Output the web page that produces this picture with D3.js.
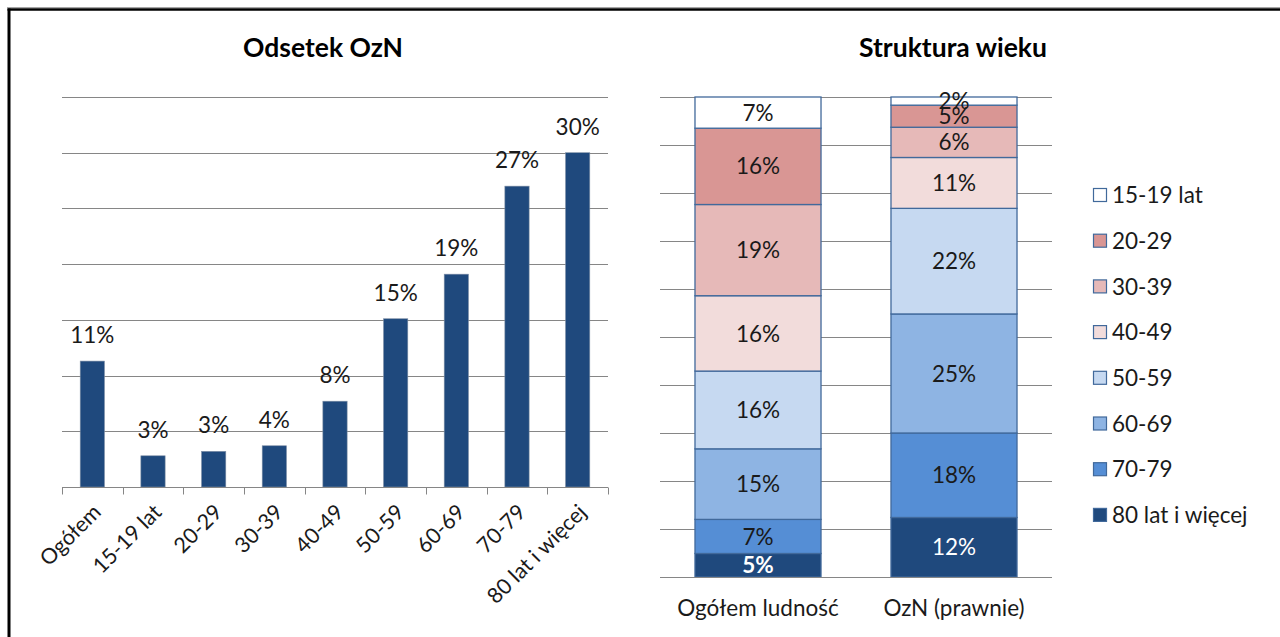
<!DOCTYPE html>
<html>
<head>
<meta charset="utf-8">
<script src="https://cdn.jsdelivr.net/npm/d3@7/dist/d3.min.js"></script>
<style>
  html, body { margin: 0; padding: 0; background: #fff; }
  svg { display: block; font-family: Lato, "Open Sans", sans-serif; }
</style>
</head>
<body>
<svg id="chart" width="1280" height="637"></svg>
<script>
// ---------- DATA ----------
const leftTitle = "Odsetek OzN";
const rightTitle = "Struktura wieku";

const leftCategories = ["Ogółem", "15-19 lat", "20-29", "30-39", "40-49", "50-59", "60-69", "70-79", "80 lat i więcej"];
const leftValues = [11.3, 2.8, 3.2, 3.7, 7.7, 15.1, 19.1, 27.0, 30.0];
const leftLabels = ["11%", "3%", "3%", "4%", "8%", "15%", "19%", "27%", "30%"];
const leftTicks = [0, 5, 10, 15, 20, 25, 30, 35];

const rightCategories = ["Ogółem ludność", "OzN (prawnie)"];
// age groups, listed bottom of stack first
const ageGroups = ["80 lat i więcej", "70-79", "60-69", "50-59", "40-49", "30-39", "20-29", "15-19 lat"];
const ogolemShares = [4.9, 7.1, 14.7, 16.2, 15.7, 19.0, 15.9, 6.5];
const oznShares = [12.4, 17.6, 24.8, 22.0, 10.6, 6.3, 4.6, 1.7];
const rightTicks = [0, 10, 20, 30, 40, 50, 60, 70, 80, 90, 100];
const ageColors = ["#1f497d", "#558ed5", "#8eb4e3", "#c6d9f1", "#f2dcdb", "#e6b9b8", "#d99694", "#ffffff"];
const legendOrder = ["15-19 lat", "20-29", "30-39", "40-49", "50-59", "60-69", "70-79", "80 lat i więcej"];

// ---------- SETUP ----------
const svg = d3.select("#chart");
const gridColor = "#868686";
const textColor = "#1a1a1a";
const fs = 22.5;

// frame
svg.append("line").attr("x1", 7).attr("x2", 1280).attr("y1", 7.5).attr("y2", 7.5)
  .attr("stroke", "#a6a6a6").attr("stroke-width", 1);
svg.append("line").attr("x1", 7.5).attr("x2", 1280).attr("y1", 9.5).attr("y2", 9.5)
  .attr("stroke", "#000").attr("stroke-width", 2.5);
svg.append("line").attr("x1", 9).attr("x2", 9).attr("y1", 8.5).attr("y2", 637)
  .attr("stroke", "#000").attr("stroke-width", 3);

// ---------- LEFT CHART ----------
const xL = d3.scaleBand().domain(leftCategories).range([62, 608]).padding(0);
const yL = d3.scaleLinear().domain([0, 35]).range([487, 97]);

svg.append("text").attr("x", 323).attr("y", 57).attr("text-anchor", "middle")
  .attr("font-size", 26.5).attr("font-weight", "bold").attr("fill", "#000").text(leftTitle);

const gL = svg.append("g");
gL.append("g").selectAll("line").data(leftTicks.filter(t => t > 0)).join("line")
  .attr("x1", 62).attr("x2", 608)
  .attr("y1", d => Math.round(yL(d)) + 0.5).attr("y2", d => Math.round(yL(d)) + 0.5)
  .attr("stroke", gridColor).attr("stroke-width", 1);

// bars
const barW = xL.bandwidth() * 0.4;
gL.append("g").selectAll("rect").data(leftValues).join("rect")
  .attr("x", (d, i) => xL(leftCategories[i]) + (xL.bandwidth() - barW) / 2)
  .attr("y", d => yL(d))
  .attr("width", barW)
  .attr("height", d => yL(0) - yL(d))
  .attr("fill", "#1f497d")
  .attr("stroke", "#7f8fa6").attr("stroke-width", 0.6);

// value labels
gL.append("g").selectAll("text").data(leftValues).join("text")
  .attr("x", (d, i) => xL(leftCategories[i]) + xL.bandwidth() / 2)
  .attr("y", d => yL(d) - 18)
  .attr("text-anchor", "middle").attr("font-size", fs).attr("fill", textColor)
  .text((d, i) => leftLabels[i]);

// x axis
const axL = gL.append("g").attr("transform", `translate(0,${Math.round(yL(0)) + 0.5})`)
  .call(d3.axisBottom(xL).tickSize(0).tickPadding(0));
axL.select(".domain").attr("stroke", gridColor).attr("d", "M62,0H608");
// boundary ticks
const boundaries = leftCategories.map(c => xL(c)).concat([xL(leftCategories[leftCategories.length - 1]) + xL.bandwidth()]);
axL.append("g").selectAll("line").data(boundaries).join("line")
  .attr("x1", d => Math.round(d) + 0.5).attr("x2", d => Math.round(d) + 0.5)
  .attr("y1", 0).attr("y2", 7).attr("stroke", gridColor);
axL.selectAll(".tick text")
  .attr("font-size", 21.5).attr("fill", textColor).attr("font-family", "Lato, sans-serif")
  .attr("text-anchor", "end").attr("dy", 0).attr("y", 0)
  .attr("transform", "translate(10,26) rotate(-45)");

// ---------- RIGHT CHART ----------
const xR = d3.scaleBand().domain(rightCategories).range([660, 1052]).padding(0);
const yR = d3.scaleLinear().domain([0, 100]).range([577, 97]);

svg.append("text").attr("x", 953).attr("y", 57).attr("text-anchor", "middle")
  .attr("font-size", 26.5).attr("font-weight", "bold").attr("fill", "#000").text(rightTitle);

const gR = svg.append("g");
gR.append("g").selectAll("line").data(rightTicks.filter(t => t > 0)).join("line")
  .attr("x1", 660).attr("x2", 1052)
  .attr("y1", d => Math.round(yR(d)) + 0.5).attr("y2", d => Math.round(yR(d)) + 0.5)
  .attr("stroke", gridColor).attr("stroke-width", 1);

const tableR = rightCategories.map((c, i) => {
  const row = { cat: c };
  const src = i === 0 ? ogolemShares : oznShares;
  ageGroups.forEach((g, j) => row[g] = src[j]);
  return row;
});
const stack = d3.stack().keys(ageGroups)(tableR);
const colorR = d3.scaleOrdinal().domain(ageGroups).range(ageColors);
const barWR = xR.bandwidth() * 0.643;

stack.forEach(layer => {
  const key = layer.key;
  const gLayer = gR.append("g");
  gLayer.selectAll("rect").data(layer).join("rect")
    .attr("x", d => xR(d.data.cat) + (xR.bandwidth() - barWR) / 2)
    .attr("y", d => yR(d[1]))
    .attr("width", barWR)
    .attr("height", d => yR(d[0]) - yR(d[1]))
    .attr("fill", colorR(key))
    .attr("stroke", "#41699b").attr("stroke-width", 1.3);
});
stack.forEach(layer => {
  const key = layer.key;
  const dark = key === "80 lat i więcej";
  gR.append("g").selectAll("text").data(layer).join("text")
    .attr("x", d => xR(d.data.cat) + xR.bandwidth() / 2)
    .attr("y", d => (yR(d[0]) + yR(d[1])) / 2)
    .attr("dy", "0.36em")
    .attr("text-anchor", "middle").attr("font-size", fs)
    .attr("fill", dark ? "#ffffff" : textColor)
    .attr("font-weight", (d, i) => dark && i === 0 ? "bold" : "normal")
    .text(d => Math.round(d[1] - d[0]) + "%");
});

const axR = gR.append("g").attr("transform", `translate(0,${Math.round(yR(0)) + 0.5})`)
  .call(d3.axisBottom(xR).tickSize(0).tickPadding(23));
axR.select(".domain").attr("stroke", gridColor).attr("d", "M660,0H1052");
axR.selectAll(".tick text").attr("font-size", fs).attr("fill", textColor)
  .attr("font-family", "Lato, sans-serif");

// legend
const legend = svg.append("g");
legendOrder.forEach((name, i) => {
  const y = 195 + i * 45.7;
  legend.append("rect").attr("x", 1093.5).attr("y", y - 6.5).attr("width", 13).attr("height", 13)
    .attr("fill", colorR(name)).attr("stroke", "#41699b").attr("stroke-width", 1.2);
  legend.append("text").attr("x", 1112).attr("y", y).attr("dy", "0.36em")
    .attr("font-size", fs).attr("fill", textColor).text(name);
});
</script>
</body>
</html>
